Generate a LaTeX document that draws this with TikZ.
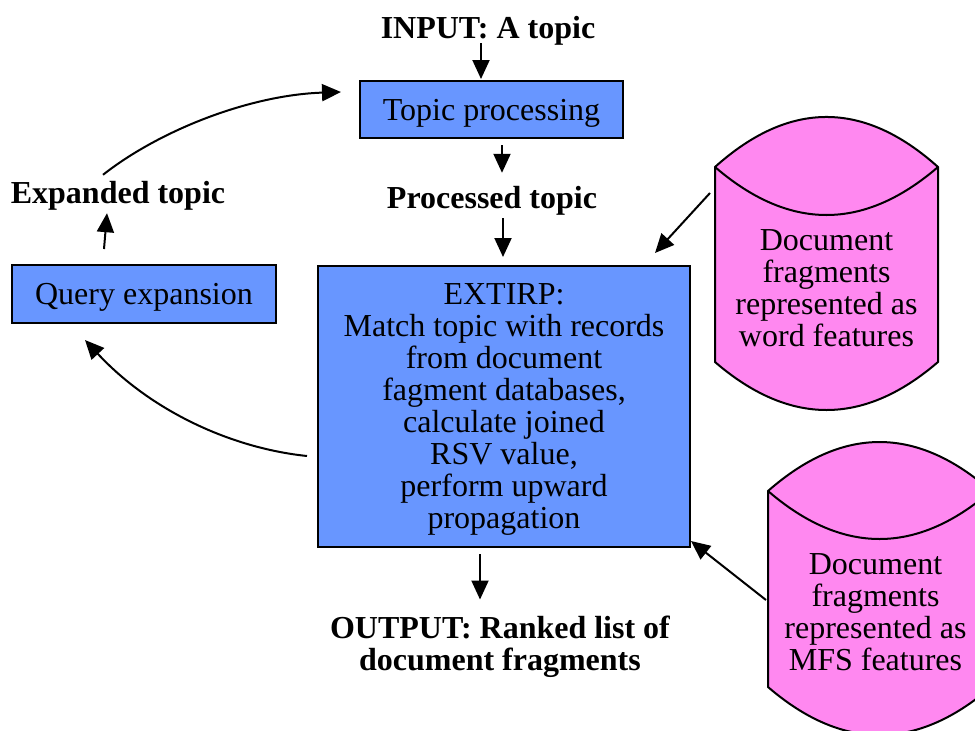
\documentclass[tikz,border=0pt]{standalone}
\usepackage{fontspec}
\setmainfont{Liberation Serif}
\usetikzlibrary{arrows.meta,calc}
\definecolor{boxblue}{RGB}{104,150,255}
\definecolor{cylpink}{RGB}{255,136,240}
\begin{document}
\begin{tikzpicture}[x=1pt,y=-1pt,
  every node/.style={font=\fontsize{32}{32}\selectfont, inner sep=0pt},
  bx/.style={draw=black, line width=2pt, fill=boxblue},
  lbl/.style={font=\fontsize{32}{32}\selectfont\bfseries, align=center},
  arr/.style={line width=2pt, -{Triangle[length=19pt,width=17pt]}},
  cyl/.style={draw=black, line width=2pt, fill=cylpink, line join=miter},
]
\useasboundingbox (0,0) rectangle (975,731);
\clip (0,0) rectangle (975,731);

% cylinders
\path[cyl] (715,167) .. controls (789.3,100.3) and (863.7,100.3) .. (938,167)
  -- (938,362) .. controls (863.7,426) and (789.3,426) .. (715,362) -- cycle;
\draw[line width=2pt] (715,167) .. controls (789.3,231) and (863.7,231) .. (938,167);
\path[cyl] (768,491) .. controls (842.3,425.7) and (916.7,425.7) .. (991,491)
  -- (991,687) .. controls (916.7,751) and (842.3,751) .. (768,687) -- cycle;
\draw[line width=2pt] (768,491) .. controls (842.3,555) and (916.7,555) .. (991,491);

\node[align=center] (db1) at (826.5,288) {Document\\fragments\\represented as\\word features};
\node[align=center] (db2) at (875.5,612.5) {Document\\fragments\\represented as\\MFS features};

% boxes
\node[bx, minimum width=263pt, minimum height=57pt] (topic) at (491.5,109.5) {};
\node (topicT) at ($(topic)+(0,4)$) {Topic processing};
\node[bx, minimum width=372pt, minimum height=281pt] (extirp) at (504,406.5) {};
\node[align=center] (extirpT) at ($(extirp)+(0,2.5)$)
  {EXTIRP:\\Match topic with records\\from document\\fagment databases,\\calculate joined\\RSV value,\\perform upward\\propagation};
\node[bx, minimum width=264pt, minimum height=58pt] (query) at (144,294) {};
\node (queryT) at ($(query)+(0,3)$) {Query expansion};

% labels
\node[lbl] (input) at (488,31) {INPUT: A topic};
\node[lbl] (proc) at (492,201) {Processed topic};
\node[lbl] (exp) at (118,196) {Expanded topic};
\node[lbl] (out) at (500,647) {OUTPUT: Ranked list of\\document fragments};

% arrows
\draw[arr] ($(input.south)+(-7,-2.5)$) -- ($(topic.north)+(-10.5,-1)$);
\draw[arr] ($(topic.south)+(10.5,6)$) -- ($(proc.north)+(10,-13.5)$);
\draw[arr] ($(proc.south)+(11,2.5)$) -- ($(extirp.north)+(-1,-8)$);
\draw[arr] ($(extirp.south)+(-24,6)$) -- ($(out.north)+(-20,-16.5)$);
\draw[arr] ($(query.north)+(-40,-15)$) -- ($(exp.south)+(-11,2.5)$);
\draw[arr] ($(exp.north)+(-15,-6.5)$) .. controls (160,130) and (250,95) .. ($(topic.west)+(-18,-17.5)$);
\draw[arr] ($(extirp.west)+(-10,49.5)$) .. controls (230,448) and (150,410) .. ($(query.south)+(-59,16)$);
\draw[arr] ($(db1)+(-116.5,-95)$) -- ($(extirp.north east)+(-36,-12)$);
\draw[arr] ($(db2)+(-109.5,-12.5)$) -- ($(extirp.south east)+(0,-7)$);
\end{tikzpicture}
\end{document}
